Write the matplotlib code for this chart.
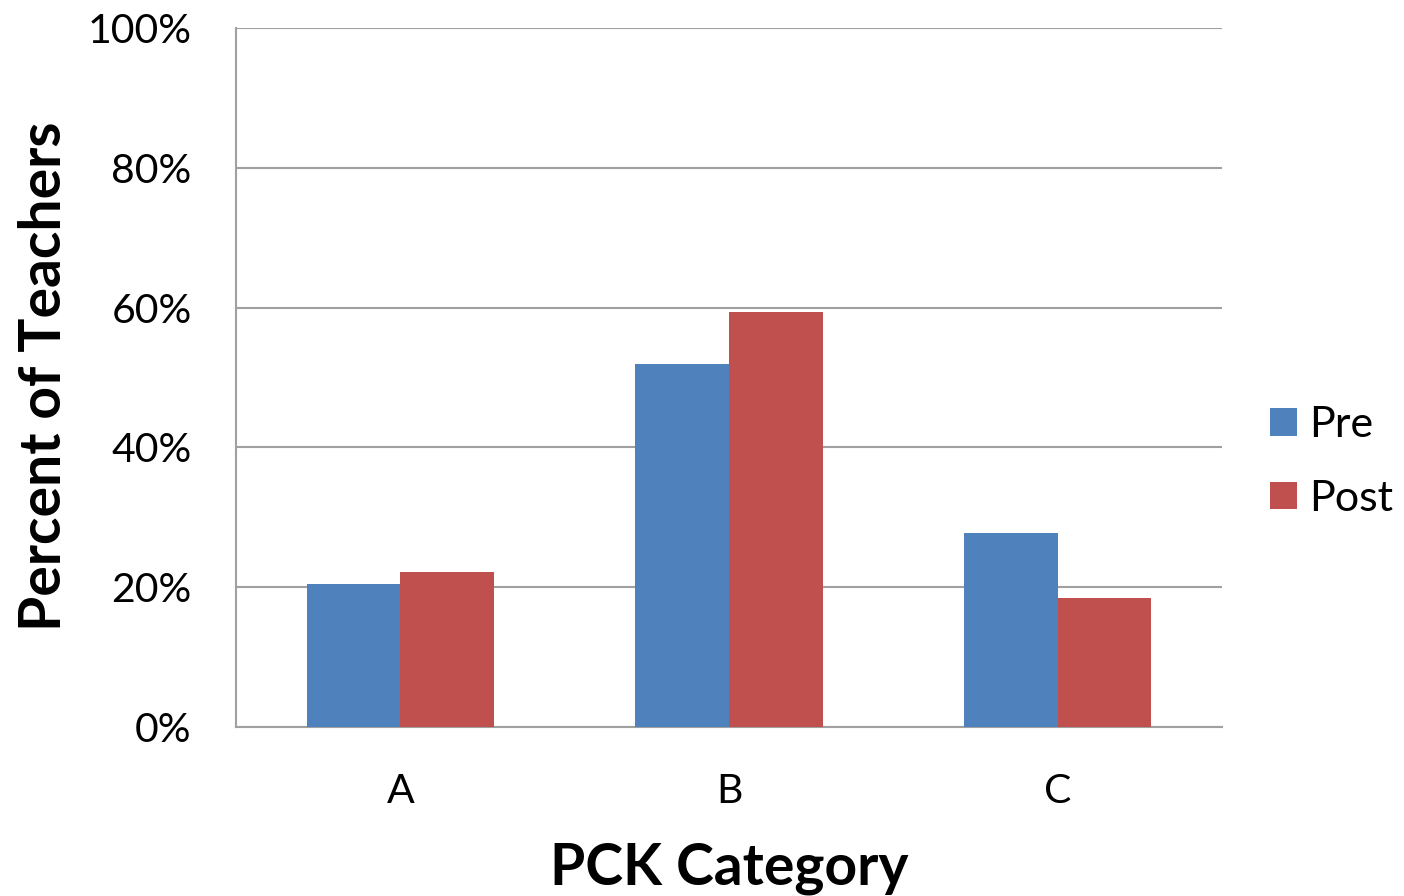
import matplotlib
matplotlib.use("Agg")
import matplotlib.pyplot as plt
import numpy as np
from matplotlib.ticker import FuncFormatter, MultipleLocator

categories = ["A", "B", "C"]
pre = [20.4, 51.9, 27.8]
post = [22.2, 59.3, 18.5]
series_names = ["Pre", "Post"]
colors = ["#4F81BD", "#C0504D"]

plt.rcParams['font.family'] = ['Lato', 'DejaVu Sans']

W, H = 1404, 896
fig = plt.figure(figsize=(W/100, H/100), dpi=100)
ax = fig.add_axes([236/W, 1-727/H, (1222-236)/W, (727-28)/H])

x = np.arange(len(categories))
w = 0.285
b1 = ax.bar(x - w/2, pre, w, color=colors[0], label=series_names[0], zorder=3)
b2 = ax.bar(x + w/2, post, w, color=colors[1], label=series_names[1], zorder=3)

ax.set_xlim(-0.5, len(categories) - 0.5)
ax.set_ylim(0, 100)
ax.yaxis.set_major_locator(MultipleLocator(20))
ax.yaxis.set_major_formatter(FuncFormatter(lambda v, p: f"{v:.0f}%"))
ax.set_xticks(x)
ax.set_xticklabels(categories)
ax.tick_params(axis='both', length=0, labelsize=29.5, colors='black')
ax.tick_params(axis='y', pad=32)
ax.tick_params(axis='x', pad=33)

ax.grid(axis='y', color='#A0A0A0', linewidth=1.5, zorder=0)
for s in ['top', 'right']:
    ax.spines[s].set_visible(False)
for s in ['left', 'bottom']:
    ax.spines[s].set_color('#A0A0A0')
    ax.spines[s].set_linewidth(1.5)

fig.text(729/W, 1-884/H, "PCK Category", fontsize=41, fontweight='bold',
         ha='center', va='baseline')
fig.text(61/W, 1-376/H, "Percent of Teachers", fontsize=41, fontweight='bold',
         ha='center', va='baseline', rotation=90, rotation_mode='anchor')

leg = fig.legend(handles=[b1, b2], labels=series_names,
                 loc='center left', bbox_to_anchor=(1270/W, 1-462/H), frameon=False,
                 fontsize=31, handlelength=0.62, handleheight=0.62,
                 handletextpad=0.3, labelspacing=0.82,
                 borderpad=0, borderaxespad=0)

fig.savefig("out.png", dpi=100)
